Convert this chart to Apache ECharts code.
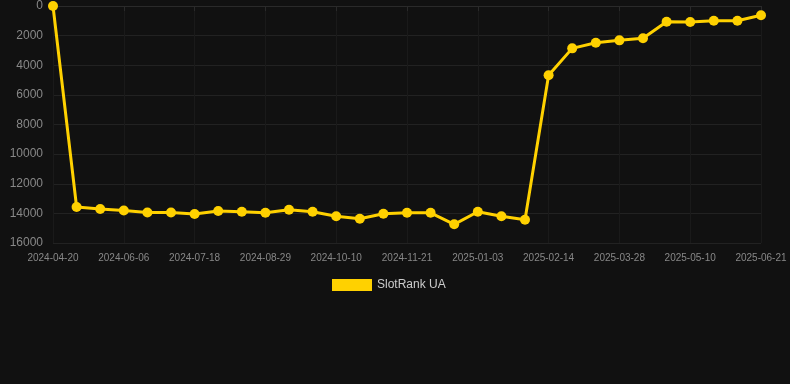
<!DOCTYPE html>
<html><head><meta charset="utf-8">
<script src="https://cdn.jsdelivr.net/npm/echarts@6/dist/echarts.min.js"></script>
<style>html,body{margin:0;padding:0;background:#111111;}#c{width:790px;height:384px;}</style>
</head><body><div id="c"></div>
<script>
const dates = [
 '2024-04-20','2024-05-09','2024-05-23','2024-06-06','2024-06-20','2024-07-04','2024-07-18',
 '2024-08-01','2024-08-15','2024-08-29','2024-09-12','2024-09-26','2024-10-10','2024-10-24',
 '2024-11-07','2024-11-21','2024-12-05','2024-12-19','2025-01-03','2025-01-17','2025-01-31',
 '2025-02-14','2025-02-28','2025-03-14','2025-03-28','2025-04-12','2025-04-26','2025-05-10',
 '2025-05-24','2025-06-07','2025-06-21'
];
const rankValues = [
 0, 13570, 13700, 13800, 13940, 13940, 14040,
 13840, 13890, 13960, 13750, 13890, 14200, 14360,
 14020, 13960, 13960, 14740, 13890, 14200, 14430,
 4680, 2860, 2480, 2320, 2180, 1060, 1080,
 990, 990, 630
];
const seriesName = 'SlotRank UA';
const chart = echarts.init(document.getElementById('c'));
chart.setOption({
  backgroundColor: '#111111',
  animation: false,
  grid: { left: 53, right: 29, top: 6, bottom: 141 },
  legend: {
    data: [seriesName], top: 274, left: 327,
    icon: 'rect', itemWidth: 40, itemHeight: 12,
    textStyle: { color: '#cccccc', fontSize: 12, fontFamily: 'Liberation Sans, Arial, sans-serif' }
  },
  xAxis: {
    type: 'category', data: dates, boundaryGap: false,
    axisLine: { show: true, lineStyle: { color: '#2a2a2a' } },
    axisTick: { show: true, interval: 2, lineStyle: { color: '#2a2a2a' } },
    axisLabel: { interval: 2, color: '#888888', fontSize: 10, margin: 10, fontFamily: 'Liberation Sans, Arial, sans-serif' },
    splitLine: { show: true, interval: 2, lineStyle: { color: '#1a1a1a' } }
  },
  yAxis: {
    type: 'value', inverse: true, min: 0, max: 16000, interval: 2000,
    axisLine: { show: false }, axisTick: { show: false },
    axisLabel: { color: '#888888', fontSize: 12, margin: 10, formatter: v => String(v), fontFamily: 'Liberation Sans, Arial, sans-serif' },
    splitLine: { show: true, lineStyle: { color: '#222222' } }
  },
  series: [{
    name: seriesName, type: 'line', data: rankValues,
    symbol: 'circle', symbolSize: 10,
    itemStyle: { color: '#FFD100' },
    lineStyle: { color: '#FFD100', width: 3 }
  }]
});
</script></body></html>
